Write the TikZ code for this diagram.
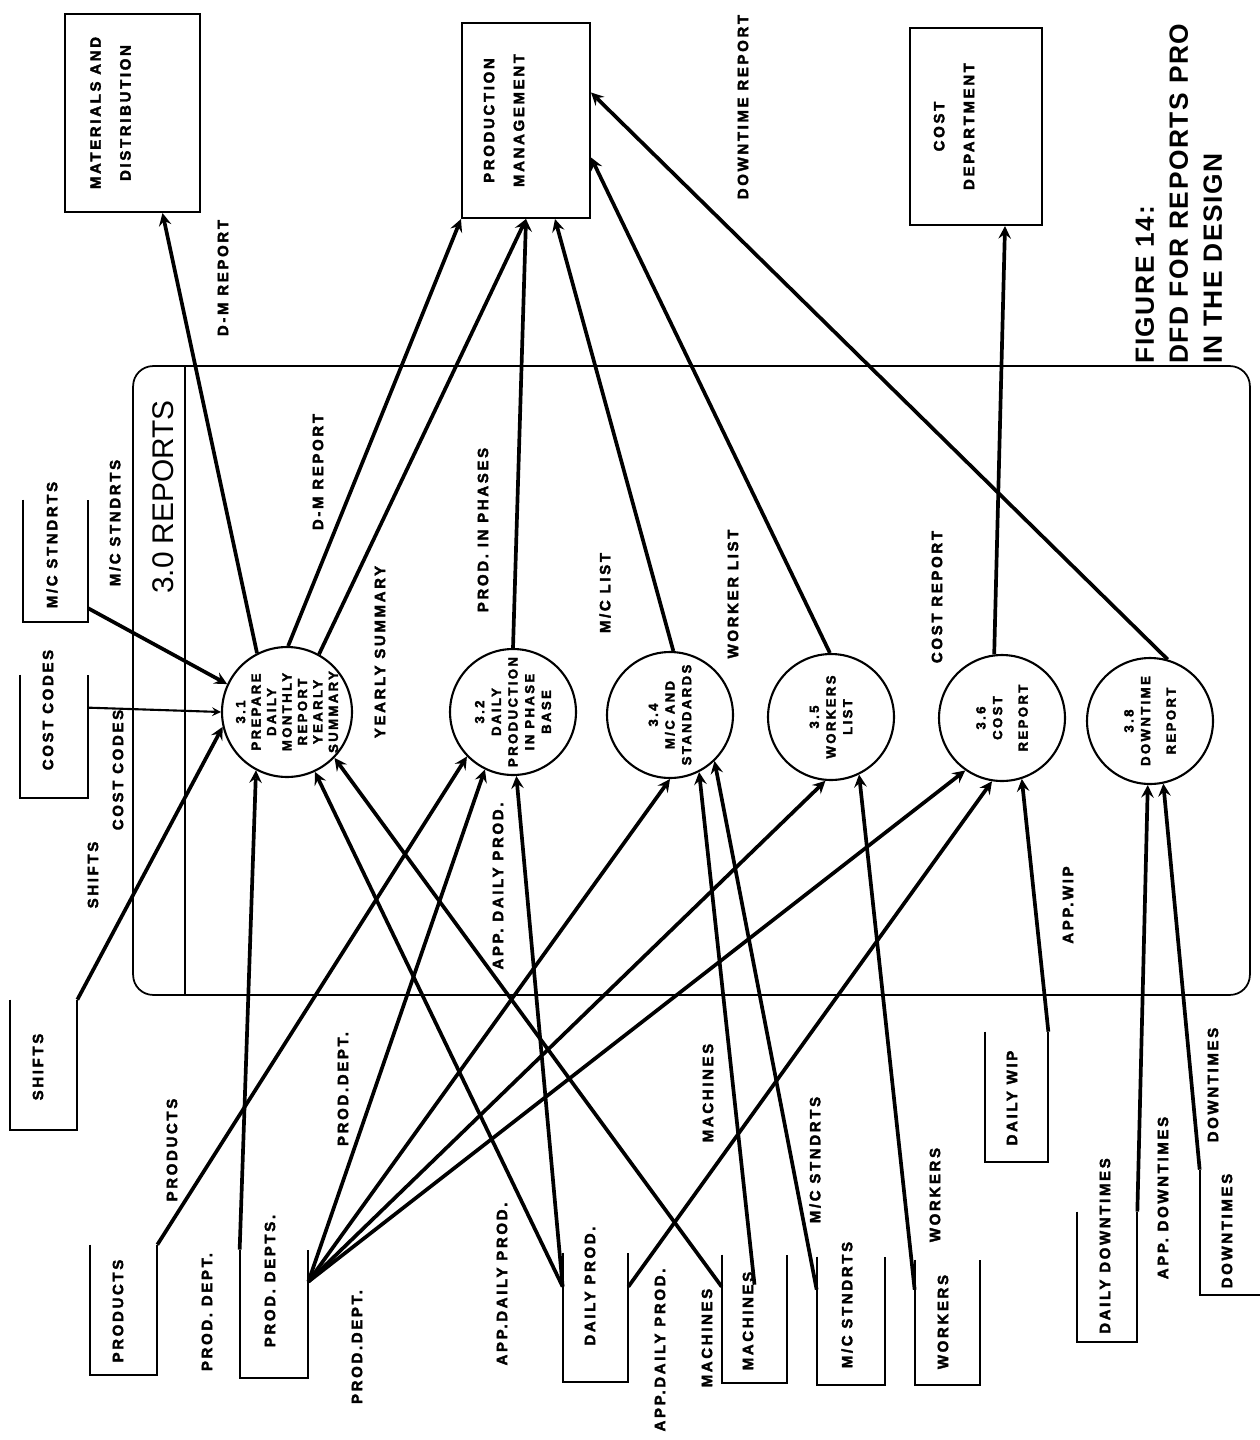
\documentclass[tikz,border=0pt]{standalone}
\usepackage{fontspec}
\setmainfont{Liberation Sans}
\newfontfamily\lblfont[LetterSpace=18,BoldFeatures={FakeBold=2.5}]{Liberation Sans}
\newfontfamily\ttlfont[LetterSpace=6]{Liberation Sans}
\usetikzlibrary{calc}

\tikzset{
  lbl/.style={rotate=90,inner sep=0pt,font=\lblfont\bfseries\fontsize{8.5}{10}\selectfont},
  btxt/.style={rotate=90,inner sep=0pt,align=center,font=\lblfont\bfseries\fontsize{7.5}{9.5}\selectfont},
  etxt/.style={xshift=-0.44cm,rotate=90,inner sep=0pt,align=center,font=\lblfont\bfseries\fontsize{8.5}{17}\selectfont},
  proc/.style={circle,draw,line width=1.2pt,minimum size=2.52cm,inner sep=0pt},
  ent/.style={rectangle,draw,line width=1.2pt,inner sep=0pt},
  store/.style={inner sep=0pt,minimum width=1.32cm,minimum height=2.56cm},
  flow/.style={-stealth,line width=2.1pt},
}

\begin{document}
\begin{tikzpicture}[x=0.02cm,y=-0.02cm]
  \useasboundingbox (0,0) rectangle (1259,1440);

  % outside entities
  \node[ent,minimum width=2.7cm,minimum height=3.96cm,
    label={[etxt]center:{MATERIALS AND\\DISTRIBUTION}}] (md) at (132.5,113) {};
  \node[ent,minimum width=2.56cm,minimum height=3.9cm,
    label={[etxt]center:{PRODUCTION\\MANAGEMENT}}] (pm) at (526,120.5) {};
  \node[ent,minimum width=2.64cm,minimum height=3.94cm,
    label={[etxt]center:{COST\\DEPARTMENT}}] (cd) at (976,126.5) {};

  % the process box
  \node[draw,line width=1pt,rounded corners=0.4cm,minimum width=22.34cm,minimum height=12.58cm] (rep) at (691.5,680.5) {};
  \draw[line width=1pt] ($(rep.north west)+(53,0)$) -- ($(rep.south west)+(53,0)$);
  \node[rotate=90,font=\fontsize{17}{20}\selectfont] (repname) at (163,497) {3.0 REPORTS};

  \node[rotate=90,anchor=north west,inner sep=0pt,align=left,
    font=\ttlfont\bfseries\fontsize{15}{19.4}\selectfont] (fig) at (1135,364)
    {FIGURE 14:\\DFD FOR REPORTS PRO\\IN THE DESIGN};

  % processes
  \node[proc,minimum size=2.6cm,label={[btxt,font=\lblfont\bfseries\fontsize{7.5}{8.8}\selectfont]center:{3.1\\PREPARE\\DAILY\\MONTHLY\\REPORT\\YEARLY\\SUMMARY}}] (p31) at (287,712) {};
  \node[proc,label={[btxt]center:{3.2\\DAILY\\PRODUCTION\\IN PHASE\\BASE}}] (p32) at (513,712) {};
  \node[proc,label={[btxt]center:{3.4\\M/C AND\\STANDARDS}}] (p34) at (670,715) {};
  \node[proc,label={[btxt]center:{3.5\\WORKERS\\LIST}}] (p35) at (831,717) {};
  \node[proc,label={[btxt]center:{3.6\\COST\\[5pt]REPORT}}] (p36) at (1002,718) {};
  \node[proc,label={[btxt]center:{3.8\\DOWNTIME\\[5pt]REPORT}}] (p38) at (1150,721) {};

  % data stores
  \node[store,minimum width=1.3cm,minimum height=2.44cm] (sMCt) at (55.5,561) {};
  \node[store,minimum width=1.36cm,minimum height=2.46cm] (sCC) at (54,736.5) {};
  \node[store,minimum width=1.34cm,minimum height=2.6cm] (sSH) at (43.5,1065) {};
  \node[store,minimum width=1.34cm,minimum height=2.6cm] (sPR) at (123.5,1310) {};
  \node[store,minimum width=1.36cm] (sPD) at (274,1314) {};
  \node[store,minimum width=1.3cm,minimum height=2.58cm] (sDP) at (595.5,1317.5) {};
  \node[store,minimum width=1.3cm] (sMA) at (754.5,1319) {};
  \node[store,minimum width=1.36cm] (sMS) at (851,1321) {};
  \node[store,minimum width=1.3cm,minimum height=2.5cm] (sWO) at (947.5,1322.5) {};
  \node[store,minimum width=1.26cm,minimum height=2.6cm] (sWIP) at (1016.5,1097) {};
  \node[store,minimum width=1.2cm,minimum height=2.6cm] (sDD) at (1107,1277) {};
  \node[store,minimum width=1.36cm,minimum height=2.5cm] (sDO) at (1234,1232.5) {};
  \foreach \s in {sMCt,sCC,sSH,sPR,sPD,sDP,sMA,sMS,sWO,sWIP,sDD,sDO}
    \draw[line width=1.2pt] (\s.north west) -- (\s.south west) -- (\s.south east) -- (\s.north east);

  \node[lbl] (tMCt) at (52,545) {M/C STNDRTS};
  \node[lbl] (tCC) at (48,710) {COST CODES};
  \node[lbl] (tSH) at (38,1067) {SHIFTS};
  \node[lbl] (tPR) at (118,1311) {PRODUCTS};
  \node[lbl] (tPD) at (270,1281) {PROD. DEPTS.};
  \node[lbl] (tDP) at (590,1286) {DAILY PROD.};
  \node[lbl] (tMA) at (748,1321) {MACHINES};
  \node[lbl] (tMS) at (847,1305) {M/C STNDRTS};
  \node[lbl] (tWO) at (943,1322) {WORKERS};
  \node[lbl] (tWIP) at (1012,1098) {DAILY WIP};
  \node[lbl] (tDD) at (1105,1246) {DAILY DOWNTIMES};
  \node[lbl] (tDO) at (1227,1231) {DOWNTIMES};

  % flows out
  \draw[flow] (p31.117) -- ($(md.south)+(30,0)$);
  \draw[flow] (p31.89) -- (pm.south west);
  \draw[flow] (p31.61) -- (pm.south);
  \draw[flow] (p32.90) -- (pm.south);
  \draw[flow] (p34.87) -- ($(pm.south)+(29,0)$);
  \draw[flow] (p35.91) -- ($(pm.east)+(0,37)$);
  \draw[flow] (p38.74) -- ($(pm.east)+(0,-28)$);
  \draw[flow] (p36.97) -- ($(cd.south)+(29,0)$);

  % flows in
  \draw[flow] ($(sMCt.south east)+(0,-14)$) -- (p31.155);
  \draw[flow,line width=1.2pt] ($(sCC.north east)+(0,33)$) -- (p31.180);
  \draw[flow] (sSH.north east) -- (p31.193);
  \draw[flow] (sPD.north west) -- (p31.242);
  \draw[flow] (sPR.north east) -- (p32.224);
  \coordinate (pdOut) at ($(sPD.north east)+(0,32)$);
  \draw[flow] (pdOut) -- (p32.244);
  \draw[flow] (pdOut) -- (p34.270);
  \draw[flow] (pdOut) -- (p35.265);
  \draw[flow] (pdOut) -- (p36.235);
  \coordinate (dpL) at ($(sDP.north west)+(0,34)$);
  \coordinate (dpR) at ($(sDP.north east)+(0,34)$);
  \draw[flow] (dpL) -- (p31.295);
  \draw[flow] (dpL) -- (p32.273);
  \draw[flow] (dpR) -- (p36.261);
  \draw[flow] ($(sMA.north west)+(0,32)$) -- (p31.316);
  \draw[flow] ($(sMA.north)+(0,30)$) -- (p34.297);
  \draw[flow] ($(sMS.north west)+(0,33)$) -- (p34.314);
  \draw[flow] ($(sWO.north west)+(0,30)$) -- (p35.296);
  \draw[flow] (sWIP.north east) -- (p36.288);
  \draw[flow] (sDD.north east) -- (p38.268);
  \draw[flow] (sDO.north west) -- (p38.282);

  % flow labels
  \node[lbl] (lDM1) at (223,278) {D-M REPORT};
  \node[lbl] (lDT) at (743,107) {DOWNTIME REPORT};
  \node[lbl] (lDM2) at (318,472) {D-M REPORT};
  \node[lbl] (lYS) at (380,652) {YEARLY SUMMARY};
  \node[lbl] (lPP) at (483,530) {PROD. IN PHASES};
  \node[lbl] (lML) at (605,593) {M/C LIST};
  \node[lbl] (lWL) at (733,594) {WORKER LIST};
  \node[lbl] (lCR) at (937,597) {COST REPORT};
  \node[lbl] (lMS1) at (115,523) {M/C STNDRTS};
  \node[lbl] (lCC) at (118,770) {COST CODES};
  \node[lbl] (lSH) at (93,875) {SHIFTS};
  \node[lbl] (lADP1) at (498,886) {APP. DAILY PROD.};
  \node[lbl] (lWIP) at (1068,905) {APP.WIP};
  \node[lbl] (lPR) at (172,1150) {PRODUCTS};
  \node[lbl] (lPD1) at (207,1312) {PROD. DEPT.};
  \node[lbl] (lPD2) at (343,1089) {PROD.DEPT.};
  \node[lbl] (lPD3) at (357,1347) {PROD.DEPT.};
  \node[lbl] (lADP2) at (502,1284) {APP.DAILY PROD.};
  \node[lbl] (lADP3) at (660,1350) {APP.DAILY PROD.};
  \node[lbl] (lMA1) at (707,1338) {MACHINES};
  \node[lbl] (lMA2) at (708,1093) {MACHINES};
  \node[lbl] (lMS2) at (815,1160) {M/C STNDRTS};
  \node[lbl] (lWO) at (935,1195) {WORKERS};
  \node[lbl] (lADT) at (1163,1198) {APP. DOWNTIMES};
  \node[lbl] (lDO) at (1213,1085) {DOWNTIMES};
\end{tikzpicture}
\end{document}
